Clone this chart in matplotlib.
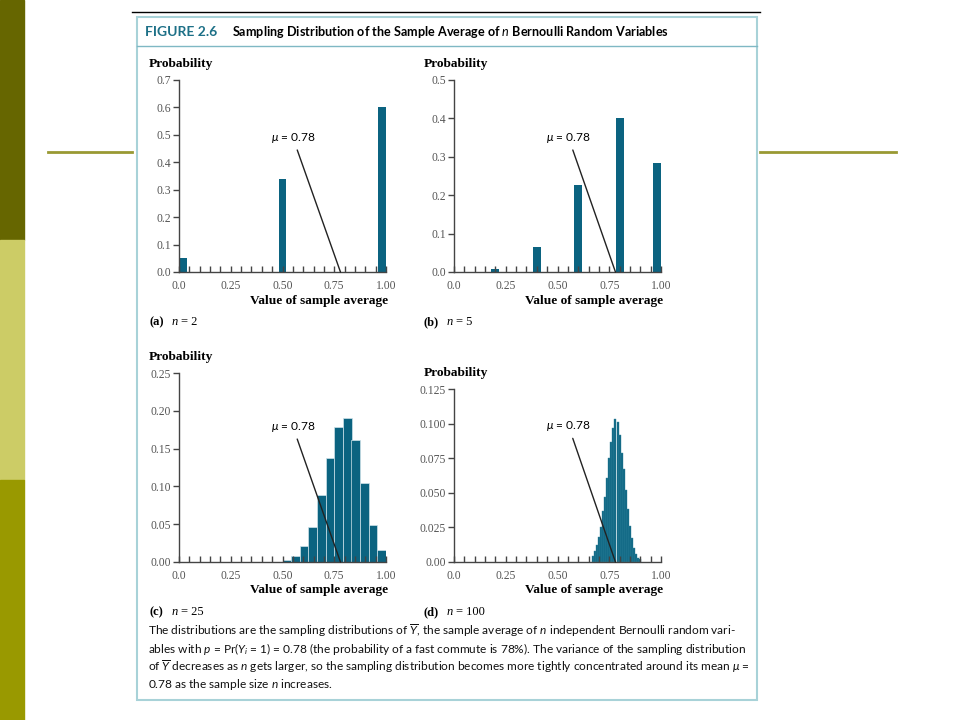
"""
Sampling distribution of the sample average of n Bernoulli variables (p = 0.78),
redrawn as a slide: four bar panels inside a captioned figure box.
"""

import matplotlib
matplotlib.use("Agg")
import matplotlib.pyplot as plt
from matplotlib.patches import Rectangle
from matplotlib.lines import Line2D
from matplotlib.ticker import MultipleLocator

W, H = 960, 720

# ---- data ----
n2_x = [0.0, 0.5, 1.0]
n2_p = [0.05, 0.34, 0.60]

n5_x = [0.2, 0.4, 0.6, 0.8, 1.0]
n5_p = [0.009, 0.064, 0.227, 0.40, 0.285]

n25_x = [0.521, 0.563, 0.604, 0.646, 0.688, 0.729, 0.771, 0.813,
         0.854, 0.896, 0.938, 0.979]
n25_p = [0.002, 0.008, 0.021, 0.046, 0.088, 0.138, 0.178, 0.191,
         0.162, 0.104, 0.049, 0.016]

n100_x = [0.67, 0.68, 0.69, 0.70, 0.71, 0.72, 0.73, 0.74, 0.75, 0.76,
          0.77, 0.78, 0.79, 0.80, 0.81, 0.82, 0.83, 0.84, 0.85, 0.86,
          0.87, 0.88, 0.89, 0.90]
n100_p = [0.004, 0.008, 0.012, 0.018, 0.025, 0.037, 0.047, 0.061, 0.075, 0.087,
          0.097, 0.103, 0.101, 0.092, 0.079, 0.067, 0.052, 0.038, 0.026, 0.017,
          0.010, 0.006, 0.003, 0.002]

mu = 0.78
x_ticks = [0.0, 0.25, 0.50, 0.75, 1.00]
x_ticklabels = ["0.0", "0.25", "0.50", "0.75", "1.00"]

caption = [
    r"The distributions are the sampling distributions of $\overline{Y}$, the sample average of $n$ independent Bernoulli random vari-",
    r"ables with $p$ = Pr($Y_i$ = 1) = 0.78 (the probability of a fast commute is 78%). The variance of the sampling distribution",
    r"of $\overline{Y}$ decreases as $n$ gets larger, so the sampling distribution becomes more tightly concentrated around its mean $\mu$ =",
    r"0.78 as the sample size $n$ increases.",
]

BAR = "#0b6380"
SERIF = "Liberation Serif"
SANS = "Lato"

plt.rcParams["mathtext.fontset"] = "custom"
plt.rcParams["mathtext.rm"] = SANS
plt.rcParams["mathtext.it"] = SANS + ":italic"
plt.rcParams["mathtext.bf"] = SANS + ":bold"


def fx(x):
    return x / W


def fy(y):
    return 1 - y / H


fig = plt.figure(figsize=(9.6, 7.2), dpi=100)
fig.patch.set_facecolor("white")

# slide decoration
for y0, y1, col in [(0, 240, "#666600"), (240, 480, "#cccc66"), (480, 720, "#999900")]:
    fig.patches.append(Rectangle((0, fy(y1)), fx(24), (y1 - y0) / H,
                                 transform=fig.transFigure, color=col, zorder=0))
fig.lines.append(Line2D([fx(48), fx(132)], [fy(152), fy(152)], transform=fig.transFigure,
                        color="#999933", lw=2))
fig.lines.append(Line2D([fx(760), fx(896)], [fy(152), fy(152)], transform=fig.transFigure,
                        color="#999933", lw=2))
fig.lines.append(Line2D([fx(132), fx(760)], [fy(12), fy(12)], transform=fig.transFigure,
                        color="black", lw=1))

# figure box
fig.patches.append(Rectangle((fx(137), fy(700)), fx(757 - 137), (700 - 17) / H,
                             transform=fig.transFigure, facecolor="none",
                             edgecolor="#a8d2d8", lw=1.5, zorder=1))
fig.lines.append(Line2D([fx(137), fx(757)], [fy(46), fy(46)], transform=fig.transFigure,
                        color="#7fb8c4", lw=1))

fig.text(fx(145), fy(32), "FIGURE 2.6", color="#1d7087", fontsize=10,
         fontweight="bold", family=SANS, va="center")
fig.text(fx(232), fy(32),
         r"Sampling Distribution of the Sample Average of $\mathit{n}$ Bernoulli Random Variables",
         color="black", fontsize=9.1, fontweight="bold", family=SANS, va="center")

panels = [
    dict(x=n2_x, p=n2_p, w=0.038, ymax=0.7, ystep=0.1, fmt="{:.1f}",
         box=(179, 80, 272), lab=(0.55, 0.49), tag="(a)", n="2", edge=None),
    dict(x=n5_x, p=n5_p, w=0.038, ymax=0.5, ystep=0.1, fmt="{:.1f}",
         box=(454, 80, 272), lab=(0.553, 0.35), tag="(b)", n="5", edge=None),
    dict(x=n25_x, p=n25_p, w=0.0417, ymax=0.25, ystep=0.05, fmt="{:.2f}",
         box=(179, 373, 562), lab=(0.55, 0.179), tag="(c)", n="25", edge="#cfe3ea"),
    dict(x=n100_x, p=n100_p, w=0.0098, ymax=0.125, ystep=0.025, fmt=None,
         box=(454, 389, 562), lab=(0.553, 0.0983), tag="(d)", n="100", edge="#3a8aa2"),
]

for pan in panels:
    left, top, bottom = pan["box"]
    ax = fig.add_axes([fx(left), fy(bottom), fx(207), (bottom - top) / H])
    # keep the end bars inside [0, 1] as in the figure
    lefts = [min(max(x - pan["w"] / 2, 0.0), 1.0 - pan["w"]) for x in pan["x"]]
    if pan["edge"]:
        ax.bar(lefts, pan["p"], width=pan["w"], align="edge", color=BAR,
               edgecolor=pan["edge"], linewidth=0.5 if pan["n"] == "25" else 0.3)
    else:
        ax.bar(lefts, pan["p"], width=pan["w"], align="edge", color=BAR)
    ax.set_xlim(0, 1.0)
    ax.set_ylim(0, pan["ymax"])
    for s in ["top", "right"]:
        ax.spines[s].set_visible(False)
    for s in ["left", "bottom"]:
        ax.spines[s].set_color("#444444")
        ax.spines[s].set_linewidth(1.0)

    ax.set_xticks(x_ticks)
    ax.set_xticklabels(x_ticklabels)
    ax.xaxis.set_minor_locator(MultipleLocator(0.05))
    ax.tick_params(axis="x", which="both", direction="in", length=4, width=1,
                   color="#444444", pad=6)
    nt = int(round(pan["ymax"] / pan["ystep"]))
    yt = [i * pan["ystep"] for i in range(nt + 1)]
    ax.set_yticks(yt)
    if pan["fmt"]:
        ax.set_yticklabels([pan["fmt"].format(v) for v in yt])
    else:
        ax.set_yticklabels(["0.00", "0.025", "0.050", "0.075", "0.100", "0.125"])
    ax.tick_params(axis="y", direction="out", length=4, width=1, color="#444444", pad=2)
    for t in ax.get_xticklabels() + ax.get_yticklabels():
        t.set_family(SERIF)
        t.set_fontsize(8.4)
        t.set_color("#555555")

    ax.annotate(r"$\mathit{\mu}$ = 0.78", xy=(mu, 0), xytext=pan["lab"],
                fontsize=8.6, family=SANS, ha="center", va="center",
                arrowprops=dict(arrowstyle="-", color="#222222", lw=1,
                                shrinkA=2, shrinkB=0))

    # panel texts
    prob_y = top - 16 if top > 100 else 64
    fig.text(fx(left - 30), fy(prob_y), "Probability", family=SERIF, fontsize=9.6,
             fontweight="bold", va="center")
    xl_y = bottom + 28 if bottom > 300 else 301
    fig.text(fx(left + 209), fy(xl_y), "Value of sample average", family=SERIF,
             fontsize=9.6, fontweight="bold", va="center", ha="right")
    tag_y = 612 if bottom > 300 else 322
    fig.text(fx(left - 30), fy(tag_y), pan["tag"], family=SERIF, fontsize=9,
             fontweight="bold", va="center")
    fig.text(fx(left - 7), fy(tag_y), "n", family=SERIF, fontsize=9, style="italic",
             va="center")
    fig.text(fx(left + 2), fy(tag_y), "= " + pan["n"], family=SERIF, fontsize=9,
             va="center")

for i, line in enumerate(caption):
    fig.text(fx(148), fy(631 + 18 * i), line, family=SANS, fontsize=8.6,
             va="center", color="#111111")

fig.savefig("out.png", dpi=100)
